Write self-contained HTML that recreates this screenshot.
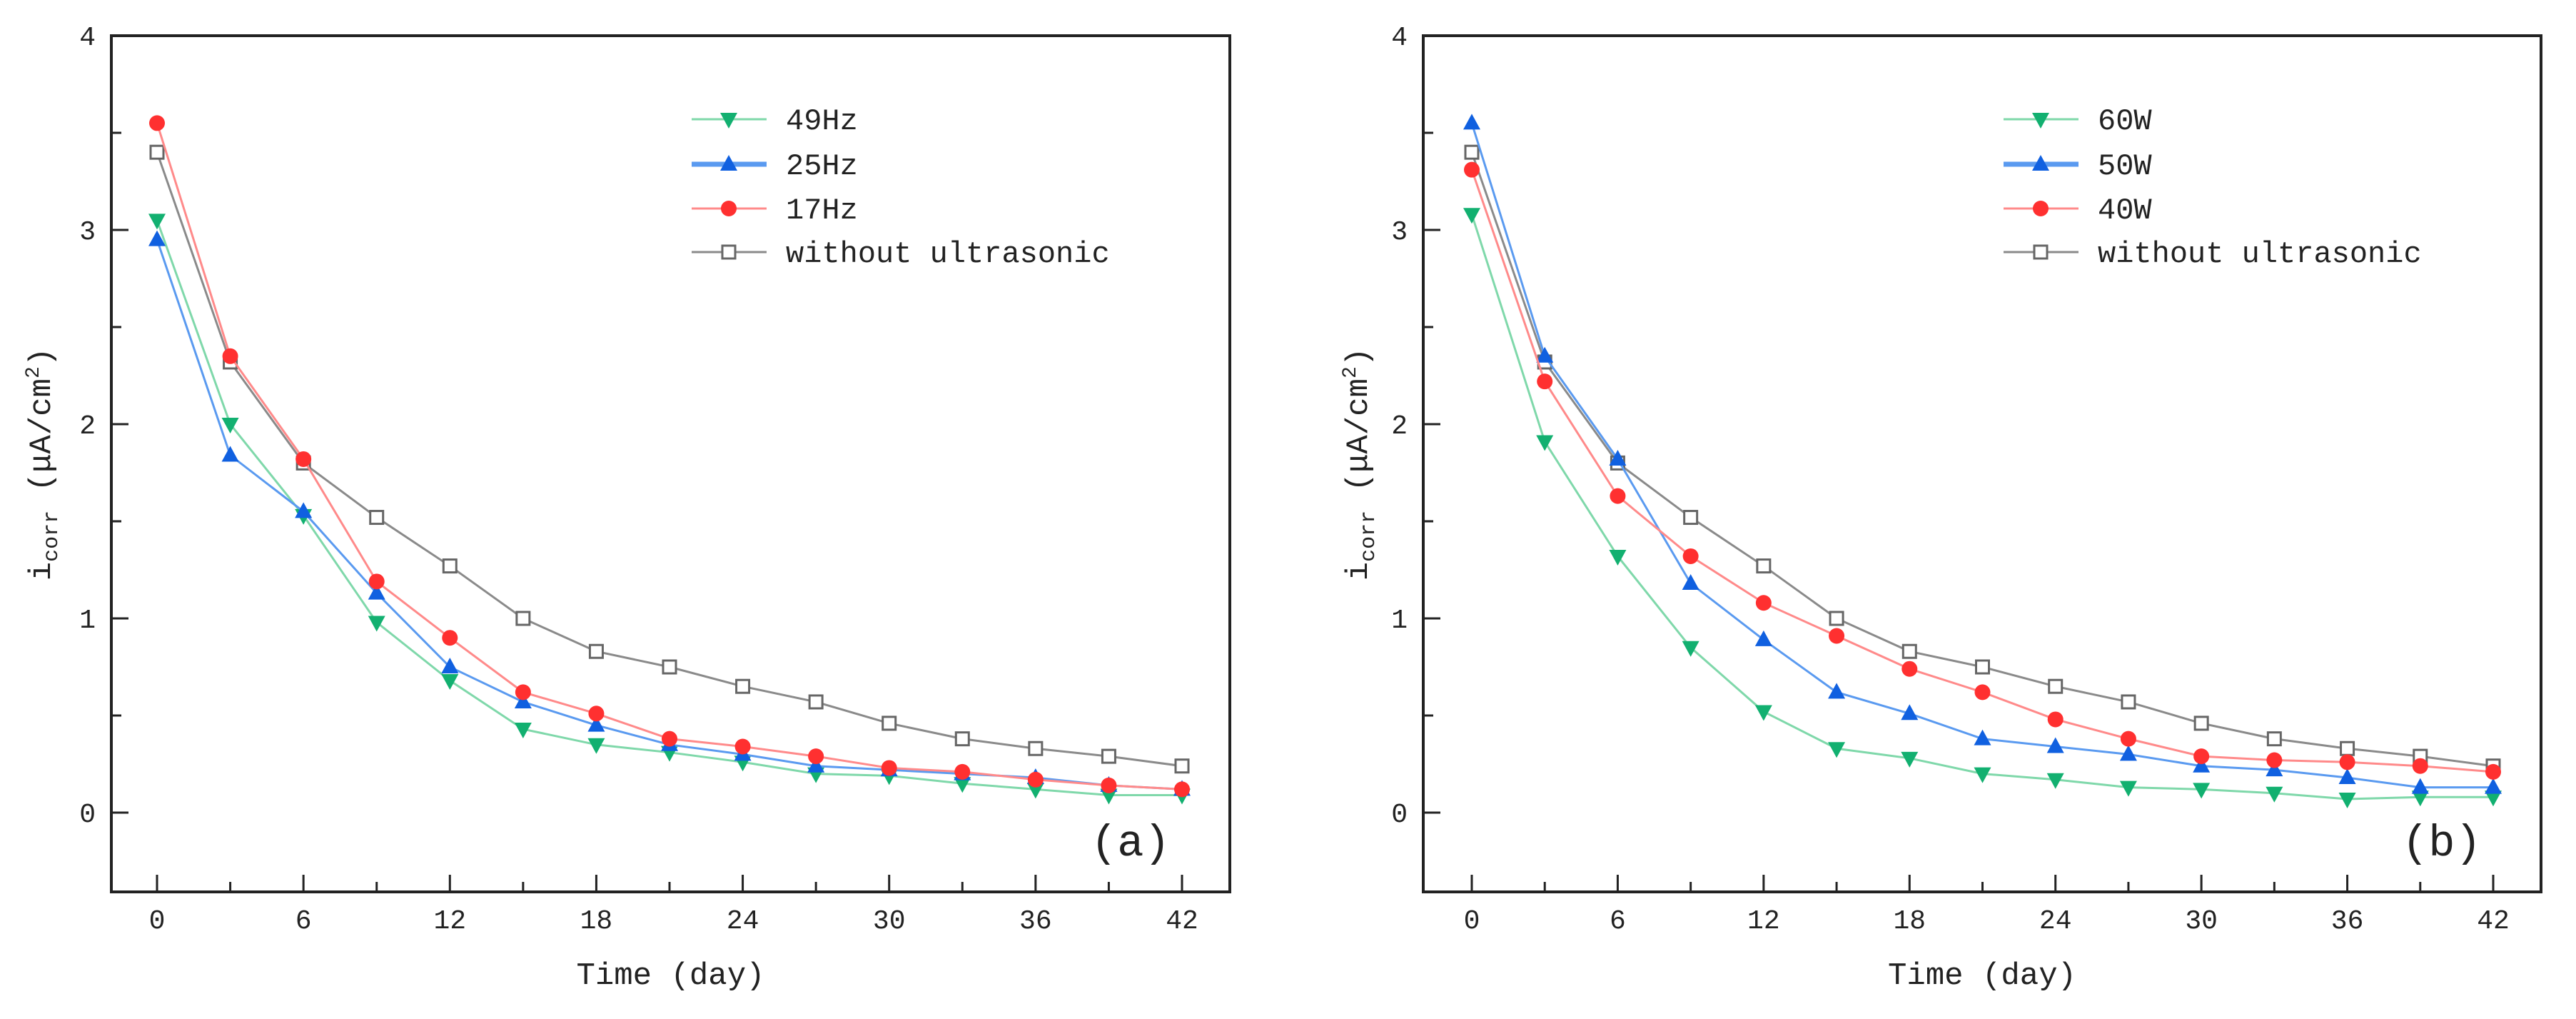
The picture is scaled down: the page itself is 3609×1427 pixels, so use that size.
<!DOCTYPE html>
<html><head><meta charset="utf-8"><style>
html,body{margin:0;padding:0;background:#fff;}
svg{display:block;}
text{font-family:"Liberation Mono","DejaVu Sans Mono",monospace;fill:#222;}
</style></head><body>
<svg id="chart" width="3609" height="1427" viewBox="0 0 3609 1427" xmlns="http://www.w3.org/2000/svg"></svg>
<script>
const days = [0,3,6,9,12,15,18,21,24,27,30,33,36,39,42];
const xTicks = [0,6,12,18,24,30,36,42];
const yTicks = [0,1,2,3,4];
const without = [3.4,2.32,1.8,1.52,1.27,1.0,0.83,0.75,0.65,0.57,0.46,0.38,0.33,0.29,0.24];
const hz49 = [3.05,2.0,1.53,0.98,0.68,0.43,0.35,0.31,0.26,0.2,0.19,0.15,0.12,0.09,0.09];
const hz25 = [2.95,1.84,1.55,1.13,0.75,0.57,0.45,0.35,0.3,0.24,0.22,0.2,0.18,0.14,0.12];
const hz17 = [3.55,2.35,1.82,1.19,0.9,0.62,0.51,0.38,0.34,0.29,0.23,0.21,0.17,0.14,0.12];
const w60 = [3.08,1.91,1.32,0.85,0.52,0.33,0.28,0.2,0.17,0.13,0.12,0.1,0.07,0.08,0.08];
const w50 = [3.55,2.35,1.82,1.18,0.89,0.62,0.51,0.38,0.34,0.3,0.24,0.22,0.18,0.13,0.13];
const w40 = [3.31,2.22,1.63,1.32,1.08,0.91,0.74,0.62,0.48,0.38,0.29,0.27,0.26,0.24,0.21];
const labelsA = ["49Hz","25Hz","17Hz","without ultrasonic"];
const labelsB = ["60W","50W","40W","without ultrasonic"];

const NS="http://www.w3.org/2000/svg";
const svg=document.getElementById('chart');
function mk(tag,attrs,parent){const e=document.createElementNS(NS,tag);for(const k in attrs)e.setAttribute(k,attrs[k]);(parent||svg).appendChild(e);return e;}

const styles=[
 {line:"#7fd8aa",fill:"#12b070",m:"down"},
 {line:"#5a9af0",fill:"#1060e0",m:"up"},
 {line:"#ff8a8a",fill:"#ff3030",m:"circle"},
 {line:"#8a8a8a",fill:"none",m:"square"}
];
function marker(g,m,cx,cy,st){
  let e;
  if(m==="circle") e=mk('circle',{cx:cx,cy:cy,r:11,fill:st.fill},g);
  else if(m==="up") e=mk('polygon',{points:`${cx},${cy-13} ${cx-12},${cy+9} ${cx+12},${cy+9}`,fill:st.fill},g);
  else if(m==="down") e=mk('polygon',{points:`${cx},${cy+13} ${cx-12},${cy-9} ${cx+12},${cy-9}`,fill:st.fill},g);
  else e=mk('rect',{x:cx-9,y:cy-9,width:18,height:18,fill:"#fff",stroke:"#666","stroke-width":3},g);
  return e;
}

function panel(id,left,right,x0px,x42px,series,labels,legX,tag,ylabX){
  const top=50,bottom=1249,y0=1138,unit=272;
  const xs=v=>x0px+(v/42)*(x42px-x0px);
  const ys=v=>y0-v*unit;
  const g=mk('g',{});
  
  
  const fr=mk('rect',{x:left,y:top,width:right-left,height:bottom-top,fill:"none",stroke:"#222","stroke-width":4},g);
  
  
  days.forEach(d=>{
    const major=xTicks.includes(d);
    mk('line',{x1:xs(d),x2:xs(d),y1:bottom,y2:bottom-(major?24:14),stroke:"#222","stroke-width":3},g);
  });
  xTicks.forEach(d=>{
    const t=mk('text',{x:xs(d),y:1300,"text-anchor":"middle","font-size":38},g);
    t.textContent=d;
    
    
  });
  for(let v=0;v<=3.5;v+=0.5){
    const major=Number.isInteger(v);
    mk('line',{x1:left,x2:left+(major?24:14),y1:ys(v),y2:ys(v),stroke:"#222","stroke-width":3},g);
  }
  yTicks.forEach(v=>{
    const t=mk('text',{x:left-22,y:ys(v)+13,"text-anchor":"end","font-size":38},g);
    t.textContent=v;
    
    
  });
  const xt=mk('text',{x:(left+right)/2,y:1378,"text-anchor":"middle","font-size":44},g);
  xt.textContent="Time (day)";
  
  
  const yt=mk('text',{x:0,y:0,"text-anchor":"middle","font-size":44,transform:`translate(${ylabX},650) rotate(-90)`},g);
  yt.innerHTML='i<tspan font-size="30" dy="10">corr</tspan><tspan dy="-10"> (μA/cm</tspan><tspan font-size="28" dy="-16">2</tspan><tspan dy="16">)</tspan>';
  
  
  const order=[3,0,1,2];
  order.forEach(i=>{
    const vals=series[i],st=styles[i];
    const sg=mk('g',{},g);
    
    
    mk('polyline',{points:vals.map((v,k)=>xs(days[k])+','+ys(v)).join(' '),fill:"none",stroke:st.line,"stroke-width":3},sg);
    vals.forEach((v,k)=>{
      const m=marker(sg,st.m,xs(days[k]),ys(v),st);
      
      
    });
  });
  const lg=mk('g',{},g);
  
  
  const rows=[167,230,292,353];
  labels.forEach((lab,i)=>{
    const st=styles[i];
    const eg=mk('g',{},lg);
    
    
    mk('line',{x1:legX,x2:legX+105,y1:rows[i],y2:rows[i],stroke:st.line,"stroke-width":i===1?7:3},eg);
    marker(eg,st.m,legX+52,rows[i],st);
    const t=mk('text',{x:legX+132,y:rows[i]+14,"font-size":42},eg);
    t.textContent=lab;
  });
  const tg=mk('text',{x:right-195,y:1198,"font-size":62,"font-family":"Liberation Serif, serif"},g);
  tg.textContent=tag;
  
  
}
panel('a',156,1723,220,1656,[hz49,hz25,hz17,without],labelsA,969,"(a)",70);
panel('b',1994,3560,2062,3493,[w60,w50,w40,without],labelsB,2807,"(b)",1915);
</script>
</body></html>
